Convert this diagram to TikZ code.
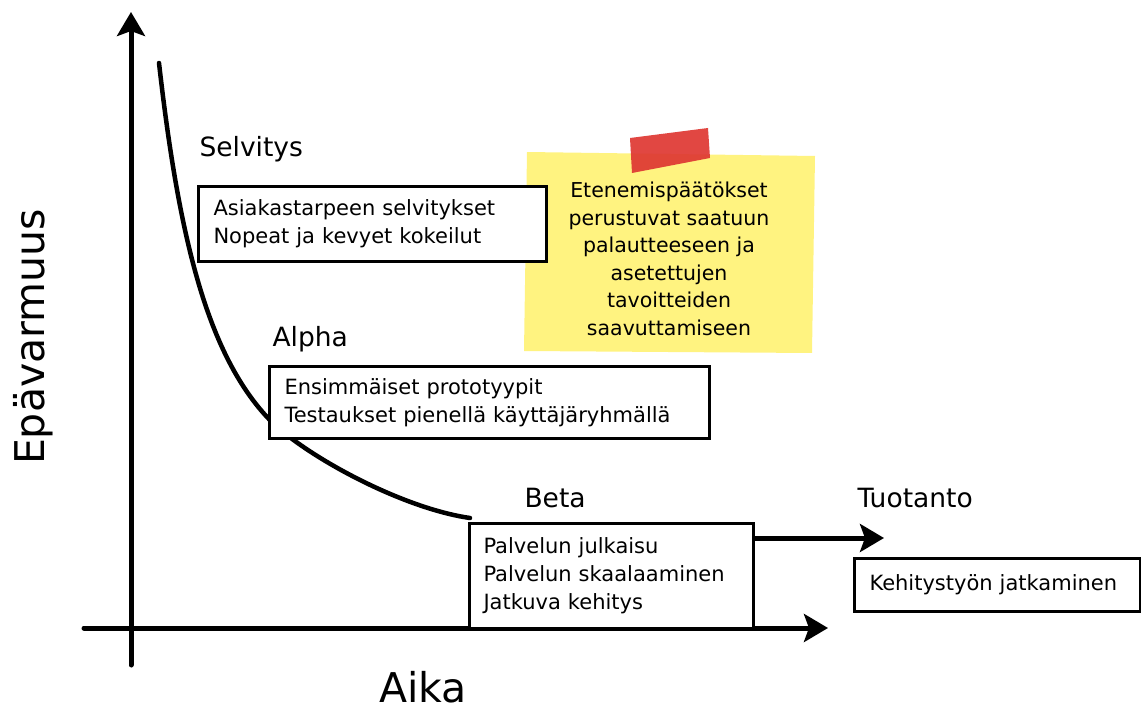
\documentclass[tikz,border=0pt]{standalone}
\usepackage{fontspec}
\setmainfont{DejaVu Sans}
\usetikzlibrary{arrows.meta}
\definecolor{sticky}{RGB}{255,243,128}
\definecolor{tape}{RGB}{222,55,50}
\tikzset{
  tip/.style={-{Stealth[length=24pt,width=28pt,inset=5pt]}},
  axis/.style={line width=5pt,line cap=round,tip},
  curve/.style={line width=4.5pt,line cap=round},
  itembox/.style={draw,line width=3pt,fill=white,inner ysep=0pt,inner xsep=15pt,
    anchor=north west,align=left,font=\fontsize{21}{28}\selectfont},
  phase/.style={font=\fontsize{26.5}{30}\selectfont,anchor=base west},
}
\begin{document}
\begin{tikzpicture}[x=1pt,y=-1pt]
\useasboundingbox (0,0) rectangle (1141,711);
% axes
\coordinate (yb) at (131,665);
\coordinate (yt) at (131,12);
\coordinate (xl) at (84,628);
\coordinate (xr) at (828,628);
\draw[axis] (yb) -- (yt);
\draw[axis] (xl) -- (xr);
\node[font=\fontsize{41}{46}\selectfont,rotate=90,anchor=base,inner sep=0pt] (ylab) at (44,337) {Epävarmuus};
\node[font=\fontsize{41}{46}\selectfont,anchor=base,inner sep=0pt] (xlab) at (423,702) {Aika};
% curve
\coordinate (c0) at (159,63);
\coordinate (c1) at (267,417);
\coordinate (c2) at (470,518);
\draw[curve] (c0) .. controls (178,230) and (205,350) .. (c1)
  .. controls (300,453) and (400,508) .. (c2);
% sticky note
\fill[sticky] (527,152) -- (815,156) -- (812,353) -- (524,351) -- cycle;
\fill[tape,opacity=0.92] (630,138) -- (708,128) -- (710,158) -- (632,173) -- cycle;
\node[font=\fontsize{20.5}{27.5}\selectfont,align=center] (note) at (669,259) {Etenemispäätökset\\perustuvat saatuun\\palautteeseen ja\\asetettujen\\tavoitteiden\\saavuttamiseen};
% Selvitys
\node[phase] (selv) at (196,157) {Selvitys};
\node[itembox,text width=318pt,minimum height=75pt] (selvb) at (197,185) {Asiakastarpeen selvitykset\\Nopeat ja kevyet kokeilut};
% Alpha
\node[phase] (alpha) at (269,347) {Alpha};
\node[itembox,text width=410pt,minimum height=72pt] (alphab) at (268,365) {Ensimmäiset prototyypit\\Testaukset pienellä käyttäjäryhmällä};
% Beta
\node[phase] (beta) at (521,507) {Beta};
\node[itembox,inner xsep=14pt,text width=256pt,minimum height=105pt] (betab) at (468,522) {Palvelun julkaisu\\Palvelun skaalaaminen\\Jatkuva kehitys};
% Tuotanto
\node[phase] (tuot) at (854,507) {Tuotanto};
\node[itembox,text width=256pt,minimum height=53pt] (tuotb) at (853,557) {Kehitystyön jatkaminen};
% arrow beta -> tuotanto
\coordinate (ta) at (884,538);
\draw[line width=5pt,tip] (betab.east |- ta) -- (ta);
\end{tikzpicture}
\end{document}
